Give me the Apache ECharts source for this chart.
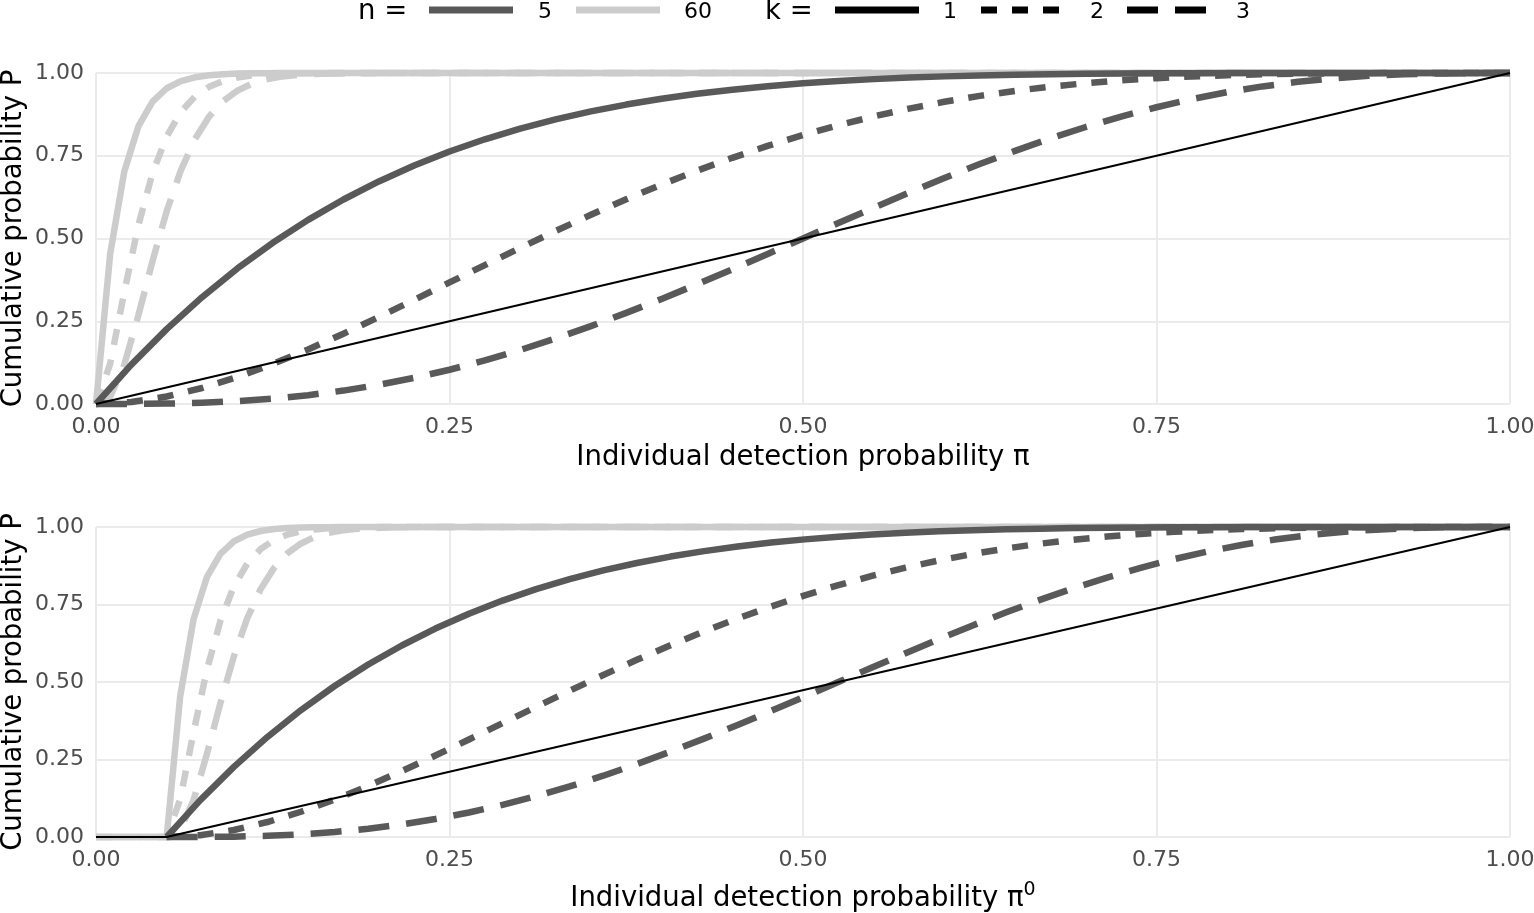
<!DOCTYPE html>
<html>
<head>
<meta charset="utf-8">
<script src="https://cdn.jsdelivr.net/npm/echarts@6/dist/echarts.min.js"></script>
<style>
html,body{margin:0;padding:0;background:#fff;}
#chart{width:1534px;height:913px;}
</style>
</head>
<body>
<div id="chart"></div>
<script>
// ---------- data ----------
const tickValues = [0, 0.25, 0.5, 0.75, 1];
const tickLabels = ['0.00', '0.25', '0.50', '0.75', '1.00'];
const nLevels = ['5', '60'];
const kLevels = ['1', '2', '3'];

// top panel, n = 5 (x = pi)
const topX5 = [0, 0.025, 0.05, 0.075, 0.10, 0.125, 0.15, 0.175, 0.20, 0.225, 0.25, 0.275, 0.30, 0.325, 0.35, 0.375, 0.40, 0.425, 0.45, 0.475, 0.50,
               0.525, 0.55, 0.575, 0.60, 0.625, 0.65, 0.675, 0.70, 0.725, 0.75, 0.775, 0.80, 0.825, 0.85, 0.875, 0.90, 0.925, 0.95, 0.975, 1.00];
// bottom panel, n = 5 (x = pi0)
const botX5 = [0.05, 0.07375, 0.0975, 0.12125, 0.145, 0.16875, 0.1925, 0.21625, 0.24, 0.26375, 0.2875, 0.31125, 0.335, 0.35875, 0.3825, 0.40625, 0.43, 0.45375, 0.4775, 0.50125, 0.525,
               0.54875, 0.5725, 0.59625, 0.62, 0.64375, 0.6675, 0.69125, 0.715, 0.73875, 0.7625, 0.78625, 0.81, 0.83375, 0.8575, 0.88125, 0.905, 0.92875, 0.9525, 0.97625, 1.00];
const n5k1 = [0, 0.1189, 0.2262, 0.3228, 0.4095, 0.4871, 0.5563, 0.6178, 0.6723, 0.7204, 0.7627, 0.7997, 0.8319, 0.8599, 0.8840, 0.9046, 0.9222, 0.9371, 0.9497, 0.9601, 0.9688,
              0.9758, 0.9815, 0.9861, 0.9898, 0.9926, 0.9947, 0.9964, 0.9976, 0.9984, 0.9990, 0.9994, 0.9997, 0.9998, 0.9999, 1.0000, 1.0000, 1.0000, 1.0000, 1.0000, 1];
const n5k2 = [0, 0.0059, 0.0226, 0.0483, 0.0815, 0.1207, 0.1648, 0.2125, 0.2627, 0.3146, 0.3672, 0.4198, 0.4718, 0.5225, 0.5716, 0.6185, 0.6630, 0.7049, 0.7438, 0.7797, 0.8125,
              0.8422, 0.8688, 0.8923, 0.9130, 0.9308, 0.9460, 0.9587, 0.9692, 0.9777, 0.9844, 0.9895, 0.9933, 0.9960, 0.9978, 0.9989, 0.9995, 0.9999, 1.0000, 1.0000, 1];
const n5k3 = [0, 0.0002, 0.0012, 0.0038, 0.0086, 0.0161, 0.0266, 0.0405, 0.0579, 0.0789, 0.1035, 0.1316, 0.1631, 0.1977, 0.2352, 0.2752, 0.3174, 0.3615, 0.4069, 0.4532, 0.5000,
              0.5468, 0.5931, 0.6385, 0.6826, 0.7248, 0.7648, 0.8023, 0.8369, 0.8684, 0.8965, 0.9211, 0.9421, 0.9595, 0.9734, 0.9839, 0.9914, 0.9962, 0.9988, 0.9998, 1];

// top panel, n = 60
const topX60 = [0, 0.01, 0.02, 0.03, 0.04, 0.05, 0.06, 0.07, 0.08, 0.09, 0.10, 0.11, 0.12, 0.13, 0.14, 0.15, 0.16, 0.17, 0.18, 0.19, 0.20, 0.30, 1.00];
const n60k1 = [0, 0.4528, 0.7024, 0.8392, 0.9136, 0.9539, 0.9756, 0.9871, 0.9933, 0.9965, 0.9982, 0.9991, 0.9995, 0.9998, 0.9999, 0.9999, 1.0000, 1, 1, 1, 1, 1, 1];
const n60k2 = [0, 0.1212, 0.3381, 0.5408, 0.6977, 0.8084, 0.8821, 0.9291, 0.9582, 0.9758, 0.9862, 0.9923, 0.9957, 0.9977, 0.9987, 0.9993, 0.9996, 0.9998, 0.9999, 1.0000, 1.0000, 1, 1];
const n60k3 = [0, 0.0224, 0.1187, 0.2685, 0.4323, 0.5826, 0.7059, 0.8003, 0.8683, 0.9154, 0.9469, 0.9674, 0.9804, 0.9884, 0.9932, 0.9961, 0.9978, 0.9988, 0.9993, 0.9996, 0.9998, 1, 1];

// bottom panel, n = 60 (x = pi0, flat at zero below the threshold)
const botX60 = [0, 0.05, 0.0595, 0.069, 0.0785, 0.088, 0.0975, 0.107, 0.1165, 0.126, 0.1355, 0.145, 0.1545, 0.164, 0.1735, 0.183, 0.1925, 0.202, 0.2115, 0.221, 0.2305, 0.24, 0.335, 1.00];
const b60k1 = [0, 0, 0.4528, 0.7024, 0.8392, 0.9136, 0.9539, 0.9756, 0.9871, 0.9933, 0.9965, 0.9982, 0.9991, 0.9995, 0.9998, 0.9999, 0.9999, 1.0000, 1, 1, 1, 1, 1, 1];
const b60k2 = [0, 0, 0.1212, 0.3381, 0.5408, 0.6977, 0.8084, 0.8821, 0.9291, 0.9582, 0.9758, 0.9862, 0.9923, 0.9957, 0.9977, 0.9987, 0.9993, 0.9996, 0.9998, 0.9999, 1.0000, 1.0000, 1, 1];
const b60k3 = [0, 0, 0.0224, 0.1187, 0.2685, 0.4323, 0.5826, 0.7059, 0.8003, 0.8683, 0.9154, 0.9469, 0.9674, 0.9804, 0.9884, 0.9932, 0.9961, 0.9978, 0.9988, 0.9993, 0.9996, 0.9998, 1, 1];

// reference lines
const refTopX = [0, 1];
const refTopY = [0, 1];
const refBotX = [0, 0.05, 1];
const refBotY = [0, 0, 1];

// ---------- styles ----------
const DARK = '#595959', LIGHT = '#cccccc', BLACK = '#000000';
const W = 6.5;
const DASH = { '1': 'solid', '2': [16, 15], '3': [31, 17] };
const FONT = 'DejaVu Sans';
const TITLE = 27.5, TICK = 22;

function pairs(xs, ys) { return xs.map((x, i) => [x, ys[i]]); }

function curve(name, xs, ys, color, k, idx) {
  return {
    name: name, type: 'line', xAxisIndex: idx, yAxisIndex: idx,
    data: pairs(xs, ys), showSymbol: false, symbol: 'none', smooth: false,
    clip: false, silent: true, animation: false,
    lineStyle: { color: color, width: W, type: DASH[k], cap: 'butt', join: 'round' },
    z: color === DARK ? 3 : 2
  };
}
function refLine(xs, ys, idx) {
  return {
    type: 'line', xAxisIndex: idx, yAxisIndex: idx, data: pairs(xs, ys),
    showSymbol: false, symbol: 'none', clip: false, silent: true, animation: false,
    lineStyle: { color: BLACK, width: 2.2 }, z: 5
  };
}

const fmt = v => { const i = tickValues.indexOf(Math.round(v * 100) / 100); return i >= 0 ? tickLabels[i] : ''; };

function xAxis(idx, name, gap) {
  return {
    type: 'value', gridIndex: idx, min: 0, max: 1, interval: 0.25,
    axisLine: { show: false }, axisTick: { show: false },
    axisLabel: { formatter: fmt, fontSize: TICK, color: '#4d4d4d', fontFamily: FONT, margin: 12 },
    splitLine: { show: true, lineStyle: { color: '#ebebeb', width: 2 } },
    name: name, nameLocation: 'middle', nameGap: gap, nameMoveOverlap: false,
    nameTextStyle: { fontSize: TITLE, color: '#000', fontFamily: FONT, lineHeight: 30,
      rich: { sup: { fontSize: 19, fontFamily: FONT, color: '#000', padding: [0, 0, 18, 0] } } }
  };
}
function yAxis(idx) {
  return {
    type: 'value', gridIndex: idx, min: 0, max: 1, interval: 0.25,
    axisLine: { show: false }, axisTick: { show: false },
    axisLabel: { formatter: fmt, fontSize: TICK, color: '#4d4d4d', fontFamily: FONT, margin: 12 },
    splitLine: { show: true, lineStyle: { color: '#ebebeb', width: 2 } },
    name: 'Cumulative probability P', nameLocation: 'middle', nameGap: 68, nameMoveOverlap: false,
    nameTextStyle: { fontSize: TITLE, color: '#000', fontFamily: FONT }
  };
}

// legend drawn with graphic elements
const LY = 10, TY = 12;
function legLine(x1, x2, color, dash) {
  return { type: 'line', shape: { x1: x1, y1: LY, x2: x2, y2: LY },
    style: { stroke: color, lineWidth: 7, lineDash: dash === 'solid' ? null : dash, lineCap: 'butt' }, silent: true };
}
function legText(x, txt, size, align) {
  return { type: 'text', x: x, y: TY, silent: true,
    style: { text: txt, fontSize: size, fontFamily: FONT, fill: '#000', align: align || 'center', verticalAlign: 'middle' } };
}

const graphic = [
  legText(358, 'n =', TITLE, 'left'),
  legLine(429, 513, DARK, 'solid'), legText(545, nLevels[0], TICK),
  legLine(576, 660, LIGHT, 'solid'), legText(698, nLevels[1], TICK),
  legText(765, 'k =', TITLE, 'left'),
  legLine(835, 919, BLACK, 'solid'), legText(950, kLevels[0], TICK),
  legLine(981, 1061, BLACK, DASH['2']), legText(1097, kLevels[1], TICK),
  legLine(1127, 1207, BLACK, DASH['3']), legText(1243, kLevels[2], TICK)
];

const series = [
  curve('60-1', topX60, n60k1, LIGHT, '1', 0),
  curve('60-2', topX60, n60k2, LIGHT, '2', 0),
  curve('60-3', topX60, n60k3, LIGHT, '3', 0),
  curve('5-1', topX5, n5k1, DARK, '1', 0),
  curve('5-2', topX5, n5k2, DARK, '2', 0),
  curve('5-3', topX5, n5k3, DARK, '3', 0),
  refLine(refTopX, refTopY, 0),
  curve('60-1b', botX60, b60k1, LIGHT, '1', 1),
  curve('60-2b', botX60, b60k2, LIGHT, '2', 1),
  curve('60-3b', botX60, b60k3, LIGHT, '3', 1),
  curve('5-1b', botX5, n5k1, DARK, '1', 1),
  curve('5-2b', botX5, n5k2, DARK, '2', 1),
  curve('5-3b', botX5, n5k3, DARK, '3', 1),
  refLine(refBotX, refBotY, 1)
];

const chart = echarts.init(document.getElementById('chart'), null, { renderer: 'canvas' });
chart.setOption({
  backgroundColor: '#ffffff',
  animation: false,
  textStyle: { fontFamily: FONT },
  grid: [
    { left: 96, right: 24, top: 73, height: 331, containLabel: false, outerBoundsMode: 'none' },
    { left: 96, right: 24, top: 527, height: 310, containLabel: false, outerBoundsMode: 'none' }
  ],
  xAxis: [
    xAxis(0, 'Individual detection probability π', 39),
    xAxis(1, 'Individual detection probability π{sup|0}', 47)
  ],
  yAxis: [yAxis(0), yAxis(1)],
  graphic: graphic,
  series: series
});
</script>
</body>
</html>
